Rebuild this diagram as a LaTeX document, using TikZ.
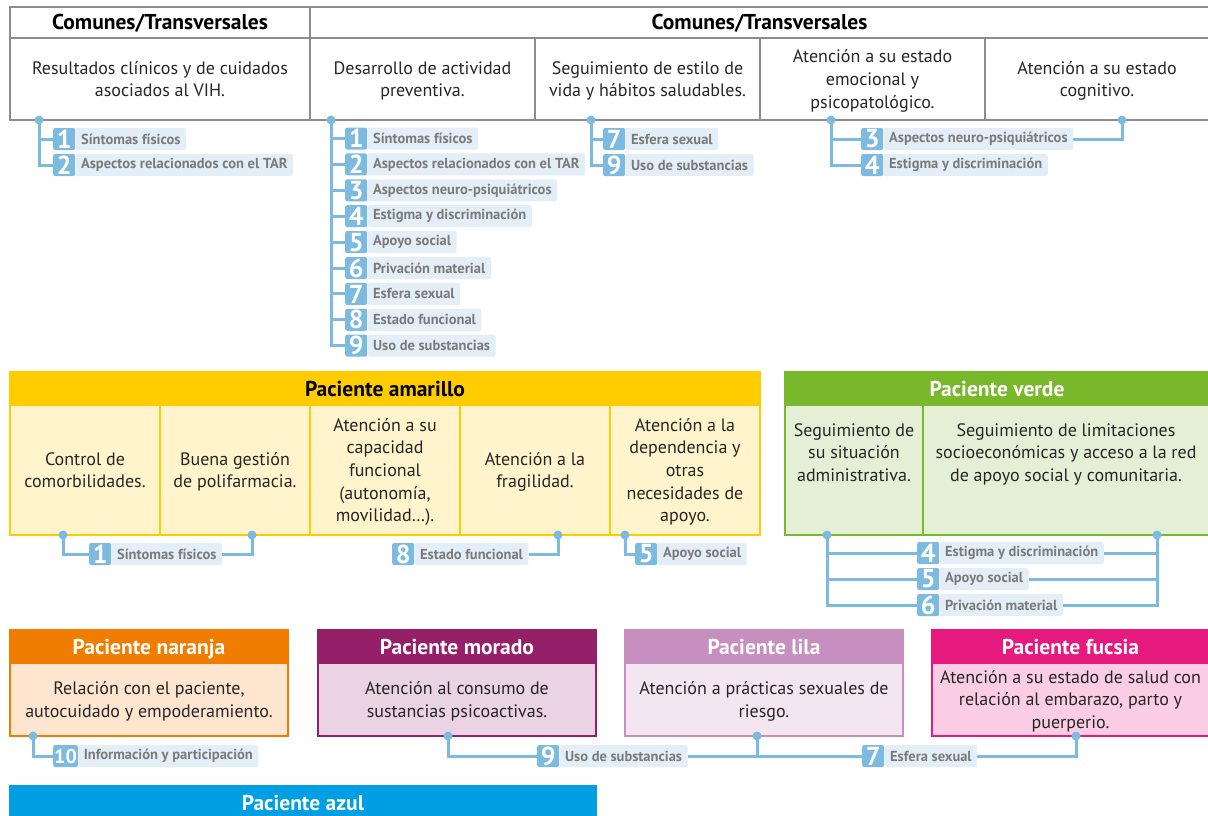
\documentclass[tikz,border=0pt]{standalone}
\usepackage{fontspec}
\setmainfont{PT Sans}
\usetikzlibrary{positioning}

\definecolor{rulegray}{HTML}{8C8C8C}
\definecolor{inkdark}{HTML}{262626}
\definecolor{wireblue}{HTML}{7DBADF}
\definecolor{tagfill}{HTML}{E3EEF6}
\definecolor{taggray}{HTML}{7B7B7B}
\definecolor{amaHead}{HTML}{FFCC00}
\definecolor{amaBody}{HTML}{FFF4CC}
\definecolor{verHead}{HTML}{78B82A}
\definecolor{verBody}{HTML}{E4F0D6}
\definecolor{narHead}{HTML}{F07D00}
\definecolor{narBody}{HTML}{FDE5D0}
\definecolor{morHead}{HTML}{951F68}
\definecolor{morBody}{HTML}{EAD3E2}
\definecolor{lilHead}{HTML}{C78EC0}
\definecolor{lilBody}{HTML}{F4E6F1}
\definecolor{fucHead}{HTML}{E6197F}
\definecolor{fucBody}{HTML}{FACDE4}
\definecolor{azuHead}{HTML}{009FE3}

\tikzset{
  celltext/.style={inner sep=0pt, align=center, text=inkdark, font=\fontsize{18}{22.7}\selectfont},
  gridcell/.style={celltext, draw=rulegray, line width=1.2pt, text depth=0pt},
  headcell/.style={draw=rulegray, line width=1.2pt, inner sep=0pt, text=black, font=\fontsize{21.5}{24}\selectfont\bfseries, text height=15pt, text depth=0pt},
  colcell/.style={celltext, draw=#1, line width=1.5pt, text depth=0pt},
  colhead/.style={fill=#1, draw=#1, line width=1.5pt, inner sep=0pt, text=white, font=\fontsize{21.5}{24}\selectfont\bfseries, text height=15pt, text depth=0pt},
  numbox/.style={fill=wireblue, text=white, font=\fontsize{26}{26}\selectfont\bfseries, minimum width=22pt, minimum height=22pt, inner sep=0pt, inner xsep=1pt, rounded corners=2pt},
  tagbox/.style={fill=tagfill, text=taggray, font=\fontsize{14.5}{16}\selectfont\bfseries, minimum height=22pt, inner sep=0pt, inner xsep=5.5pt, rounded corners=2pt},
  wire/.style={draw=wireblue, line width=3pt},
  pin/.style={circle, fill=wireblue, inner sep=0pt, minimum size=9pt}
}

\newcommand{\tagat}[4]{%
  \node[numbox, anchor=west] (n#1) at (#2) {#3};
  \node[tagbox, right=0pt of n#1] (#1) {#4};}

\begin{document}
\begin{tikzpicture}[x=1pt,y=-1pt]
\useasboundingbox (0,0) rectangle (1208,816);

% comunes / transversales
\node[headcell, minimum width=300pt, minimum height=31pt] (comunA) at (160,22.5) {Comunes/Transversales};
\node[headcell, minimum width=899pt, minimum height=31pt] (comunB) at (759.5,22.5) {Comunes/Transversales};
\node[gridcell, minimum width=300pt, minimum height=82pt] (vih) at (160,79) {Resultados clínicos y de cuidados\\asociados al VIH.};
\node[gridcell, minimum width=225pt, minimum height=82pt] (prev) at (422.5,79) {Desarrollo de actividad\\preventiva.};
\node[gridcell, minimum width=225pt, minimum height=82pt] (estilo) at (647.5,79) {Seguimiento de estilo de\\vida y hábitos saludables.};
\node[gridcell, minimum width=225pt, minimum height=82pt] (emoc) at (872.5,79) {Atención a su estado\\emocional y\\psicopatológico.};
\node[gridcell, minimum width=224pt, minimum height=82pt] (cogn) at (1097,79) {Atención a su estado\\cognitivo.};

\tagat{vihA}{53,139}{1}{Síntomas físicos\hspace{8pt}}
\tagat{vihB}{53,165}{2}{Aspectos relacionados con el TAR}
\draw[wire] (39,120) coordinate (pvih) |- (nvihA.west);
\draw[wire] (pvih) |- (nvihB.west);
\node[pin] at (pvih) {};

\coordinate (pprev) at (331,120);
\foreach \k/\txt in {1/Síntomas físicos\hspace{8pt}, 2/Aspectos relacionados con el TAR, 3/Aspectos neuro-psiquiátricos, 4/Estigma y discriminación, 5/Apoyo social, 6/Privación material, 7/Esfera sexual, 8/Estado funcional, 9/Uso de substancias}{
  \tagat{prev\k}{345,{138.5+25.9*(\k-1)}}{\k}{\txt}
  \draw[wire] (pprev) |- (nprev\k.west);
}
\node[pin] at (pprev) {};

\tagat{estiloA}{603,139}{7}{Esfera sexual}
\tagat{estiloB}{603,165}{9}{Uso de substancias}
\draw[wire] (591,120) coordinate (pestilo) |- (nestiloA.west);
\draw[wire] (pestilo) |- (nestiloB.west);
\node[pin] at (pestilo) {};

\tagat{emocA}{861,139}{3}{Aspectos neuro-psiquiátricos}
\tagat{emocB}{861,165}{4}{Estigma y discriminación}
\coordinate (pemoc) at (831,120);
\coordinate (pcogn) at (1122,120);
\draw[wire] (pemoc) |- (nemocA.west);
\draw[wire] (pemoc) |- (nemocB.west);
\draw[wire] (emocA.east) -| (pcogn);
\node[pin] at (pemoc) {};
\node[pin] at (pcogn) {};

% paciente amarillo
\node[colhead=amaHead, text=black, minimum width=750pt, minimum height=33pt] (amaH) at (385,388.5) {Paciente amarillo};
\node[colcell=amaHead, fill=amaBody, minimum width=150pt, minimum height=130pt] (comorb) at (85,470) {Control de\\comorbilidades.};
\node[colcell=amaHead, fill=amaBody, minimum width=150pt, minimum height=130pt] (polif) at (235,470) {Buena gestión\\de polifarmacia.};
\node[colcell=amaHead, fill=amaBody, minimum width=150pt, minimum height=130pt] (funcion) at (385,470) {Atención a su\\capacidad\\funcional\\(autonomía,\\movilidad…).};
\node[colcell=amaHead, fill=amaBody, minimum width=150pt, minimum height=130pt] (fragil) at (535,470) {Atención a la\\fragilidad.};
\node[colcell=amaHead, fill=amaBody, minimum width=150pt, minimum height=130pt] (depend) at (685,470) {Atención a la\\dependencia y\\otras\\necesidades de\\apoyo.};

\coordinate (pcomorb) at (63,535);
\coordinate (ppolif) at (252,535);
\coordinate (pfragil) at (558,535);
\coordinate (pdepend) at (625,535);
\tagat{amaA}{89,554}{1}{Síntomas físicos\hspace{8pt}}
\tagat{amaB}{392,554}{8}{Estado funcional}
\tagat{amaC}{635,554}{5}{Apoyo social}
\draw[wire] (pcomorb) |- (namaA.west);
\draw[wire] (amaA.east) -| (ppolif);
\draw[wire] (amaB.east) -| (pfragil);
\draw[wire] (pdepend) |- (namaC.west);
\foreach \p in {pcomorb,ppolif,pfragil,pdepend} \node[pin] at (\p) {};

% paciente verde
\node[colhead=verHead, minimum width=424pt, minimum height=33pt] (verH) at (997,388.5) {Paciente verde};
\node[colcell=verHead, fill=verBody, minimum width=138pt, minimum height=130pt] (admin) at (854,470) {};
\node[colcell=verHead, fill=verBody, minimum width=286pt, minimum height=130pt] (socio) at (1066,470) {};
\node[celltext, below=19pt of admin.north] (admintxt) {Seguimiento de\\su situación\\administrativa.};
\node[celltext, below=19pt of socio.north] (sociotxt) {Seguimiento de limitaciones\\socioeconómicas y acceso a la red\\de apoyo social y comunitaria.};

\coordinate (padmin) at (827,535);
\coordinate (psocio) at (1157,535);
\tagat{verA}{917,553}{4}{Estigma y discriminación}
\tagat{verB}{917,579}{5}{Apoyo social}
\tagat{verC}{917,605}{6}{Privación material}
\foreach \t in {verA,verB,verC}{
  \draw[wire] (padmin) |- (n\t.west);
  \draw[wire] (\t.east) -| (psocio);
}
\node[pin] at (padmin) {};
\node[pin] at (psocio) {};

% fila inferior
\node[colhead=narHead, minimum width=278pt, minimum height=33pt] (narH) at (149,646.5) {Paciente naranja};
\node[colcell=narHead, fill=narBody, minimum width=278pt, minimum height=73pt] (relac) at (149,699.5) {Relación con el paciente,\\autocuidado y empoderamiento.};
\node[colhead=morHead, minimum width=278pt, minimum height=33pt] (morH) at (457,646.5) {Paciente morado};
\node[colcell=morHead, fill=morBody, minimum width=278pt, minimum height=73pt] (consumo) at (457,699.5) {Atención al consumo de\\sustancias psicoactivas.};
\node[colhead=lilHead, minimum width=278pt, minimum height=33pt] (lilH) at (764,646.5) {Paciente lila};
\node[colcell=lilHead, fill=lilBody, minimum width=278pt, minimum height=73pt] (riesgo) at (764,699.5) {Atención a prácticas sexuales de\\riesgo.};
\node[colhead=fucHead, minimum width=277pt, minimum height=33pt] (fucH) at (1070.5,646.5) {Paciente fucsia};
\node[colcell=fucHead, fill=fucBody, minimum width=277pt, minimum height=73pt] (embarazo) at (1070.5,699.5) {Atención a su estado de salud con\\relación al embarazo, parto y\\puerperio.};

\coordinate (pnar) at (33,736);
\coordinate (pmor) at (448,736);
\coordinate (plil) at (757,736);
\coordinate (pfuc) at (1076,736);
\tagat{narA}{53,756}{\fontsize{20}{20}\selectfont 10}{Información y participación}
\tagat{morA}{537,756}{9}{Uso de substancias}
\tagat{lilA}{862,756}{7}{Esfera sexual}
\draw[wire] (pnar) |- (nnarA.west);
\draw[wire] (pmor) |- (nmorA.west);
\draw[wire] (morA.east) -- (nlilA.west);
\draw[wire] (plil) -- (plil |- morA.east);
\draw[wire] (lilA.east) -| (pfuc);
\foreach \p in {pnar,pmor,plil,pfuc} \node[pin] at (\p) {};

\node[colhead=azuHead, minimum width=586pt, minimum height=33pt] (azuH) at (303,802.5) {Paciente azul};
\end{tikzpicture}
\end{document}
